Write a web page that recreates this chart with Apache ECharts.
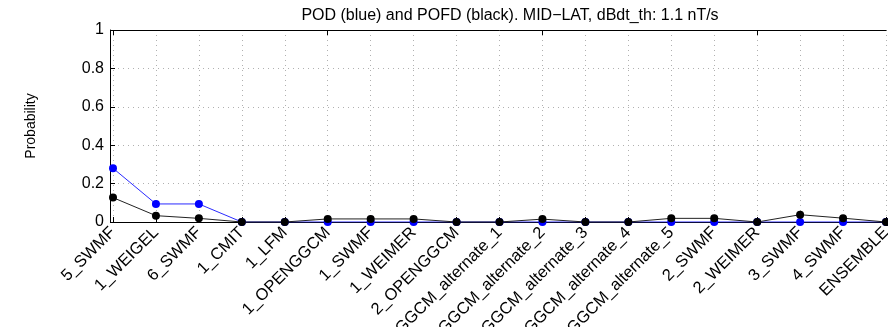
<!DOCTYPE html>
<html>
<head>
<meta charset="utf-8">
<script src="https://cdn.jsdelivr.net/npm/echarts@6/dist/echarts.min.js"></script>
<style>
  html, body { margin: 0; padding: 0; background: #fff; }
  #chart { width: 888px; height: 327px; }
</style>
</head>
<body>
<div id="chart"></div>
<script>
// Model names along the x axis
const models = [
  '5_SWMF', '1_WEIGEL', '6_SWMF', '1_CMIT', '1_LFM', '1_OPENGGCM', '1_SWMF',
  '1_WEIMER', '2_OPENGGCM', '1_OPENGGCM_alternate_1', '1_OPENGGCM_alternate_2',
  '1_OPENGGCM_alternate_3', '1_OPENGGCM_alternate_4', '1_OPENGGCM_alternate_5',
  '2_SWMF', '2_WEIMER', '3_SWMF', '4_SWMF', 'ENSEMBLE'
];

// Probability of detection (blue)
const pod = [0.28, 0.094, 0.094, 0, 0, 0, 0, 0, 0, 0, 0, 0, 0, 0, 0, 0, 0, 0, 0];

// Probability of false detection (black)
const pofd = [0.127, 0.033, 0.019, 0, 0, 0.016, 0.016, 0.016, 0, 0, 0.015, 0, 0,
              0.019, 0.019, 0, 0.038, 0.02, 0];

// Y tick values
const yTicks = [0, 0.2, 0.4, 0.6, 0.8, 1];

const FONT = "'Liberation Sans', Arial, Helvetica, sans-serif";

const chart = echarts.init(document.getElementById('chart'), null, { renderer: 'canvas' });

const gridLine = { show: true, lineStyle: { color: '#b0b0b0', type: [1, 4], width: 1 } };

chart.setOption({
  animation: false,
  backgroundColor: '#ffffff',
  title: {
    text: 'POD (blue) and POFD (black). MID\u2212LAT, dBdt_th: 1.1 nT/s',
    left: 505, top: 3, textAlign: 'center',
    textStyle: { fontFamily: FONT, fontSize: 16, fontWeight: 'normal', color: '#000' }
  },
  grid: { left: 113, right: 2, top: 30, bottom: 105, containLabel: false, outerBoundsMode: 'none' },
  xAxis: [
    {
      type: 'category', data: models, boundaryGap: false, position: 'bottom',
      axisLine: { show: true, lineStyle: { color: '#000', width: 1 } },
      axisTick: { show: true, inside: true, length: 5, lineStyle: { color: '#000' } },
      axisLabel: {
        interval: 0, rotate: 45, margin: 8, hideOverlap: false,
        fontFamily: FONT, fontSize: 16.5, color: '#000'
      },
      splitLine: gridLine
    },
    {
      type: 'category', data: models, boundaryGap: false, position: 'top',
      axisLine: { show: true, lineStyle: { color: '#000', width: 1 } },
      axisTick: { show: true, inside: true, length: 5, lineStyle: { color: '#000' } },
      axisLabel: { show: false },
      splitLine: { show: false }
    }
  ],
  yAxis: {
    type: 'value', min: yTicks[0], max: yTicks[yTicks.length - 1], interval: 0.2,
    offset: 3,
    name: 'Probability', nameLocation: 'middle', nameGap: 72, nameRotate: 90,
    nameTextStyle: { fontFamily: FONT, fontSize: 14, color: '#000' },
    axisLine: { show: true, lineStyle: { color: '#000', width: 1 } },
    axisTick: { show: true, inside: true, length: 5, lineStyle: { color: '#000' } },
    axisLabel: {
      fontFamily: FONT, fontSize: 16, color: '#000', margin: 6,
      formatter: v => String(Math.round(v * 10) / 10)
    },
    splitLine: gridLine
  },
  series: [
    {
      name: 'POD', type: 'line', data: pod, xAxisIndex: 0,
      symbol: 'circle', symbolSize: 8, showSymbol: true,
      lineStyle: { color: '#2a2aff', width: 1 },
      itemStyle: { color: '#0000ff' },
      z: 2
    },
    {
      name: 'POFD', type: 'line', data: pofd, xAxisIndex: 0,
      symbol: 'circle', symbolSize: 8, showSymbol: true,
      lineStyle: { color: '#222', width: 1 },
      itemStyle: { color: '#000' },
      z: 3
    }
  ]
});
</script>
</body>
</html>
